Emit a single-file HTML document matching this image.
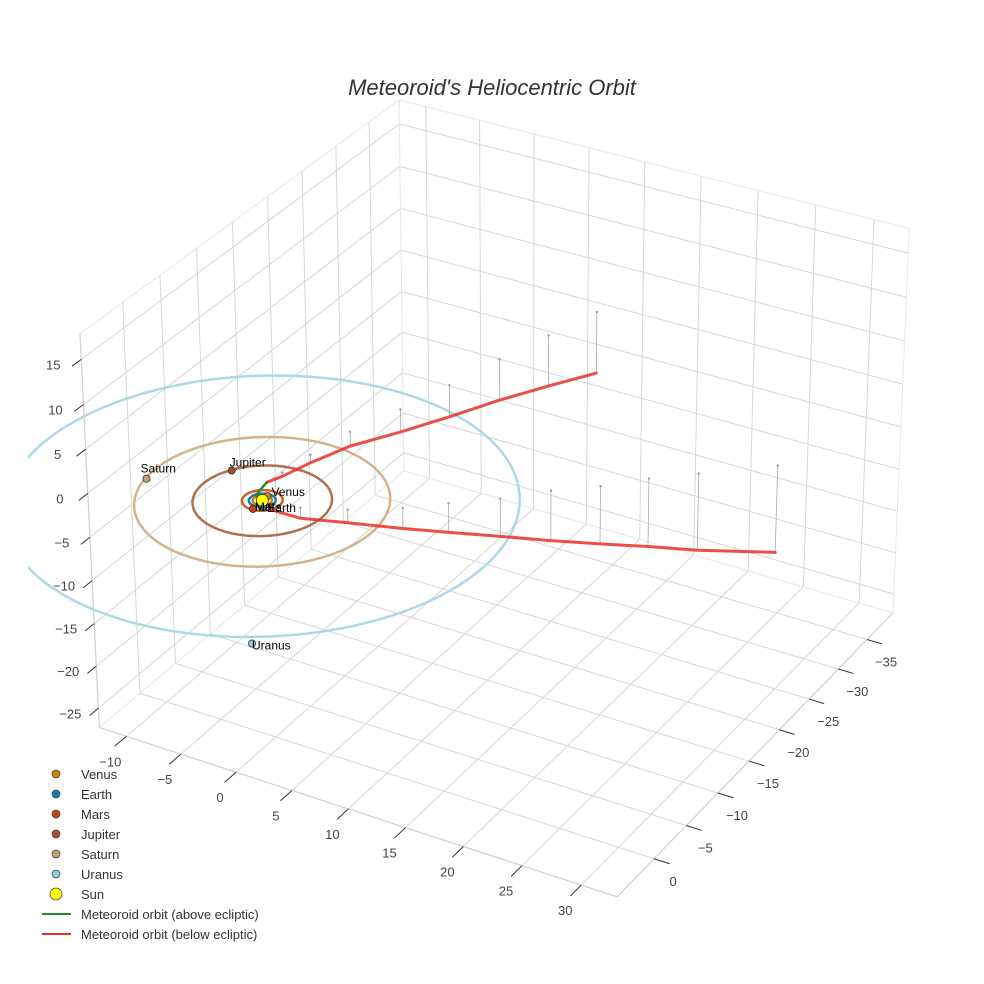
<!DOCTYPE html>
<html><head><meta charset="utf-8"><style>
html,body{margin:0;padding:0;background:#fff;}
svg{display:block;font-family:"Liberation Sans",sans-serif;}
</style></head><body>
<svg id="chart" width="984" height="984" viewBox="0 0 984 984">
<rect width="984" height="984" fill="#fff"/>
<text x="492" y="95" text-anchor="middle" font-size="22" font-style="italic" fill="#333">Meteoroid's Heliocentric Orbit</text>
<defs><clipPath id="plotclip"><rect x="28" y="0" width="956" height="984"/></clipPath></defs>
<g id="grid"></g>
<g id="axes"></g>
<g id="marks" clip-path="url(#plotclip)"></g>
<g id="legend"></g>
</svg>
<script>
// ---- data ----
const xTicks = [-10,-5,0,5,10,15,20,25,30];
const yTicks = [0,-5,-10,-15,-20,-25,-30,-35];
const zTicks = [-25,-20,-15,-10,-5,0,5,10,15];
const planetNames = ["Venus","Earth","Mars","Jupiter","Saturn","Uranus"];
const planetX = [-0.6,0.0,-0.53,-5.0,-9.9,9.6];
const planetY = [-0.72,0.8,1.4,-2.6,1.6,17.3];
const planetZ = [0,0,0,0,0,0];
const orbitRadii = [0.72,1.0,1.52,5.2,9.54,19.2];
const sunPos = [-0.6,0,0];
const greenX = [-1.4,-1.5,-1.6];
const greenY = [-0.4,-1.3,-2.2];
const greenZ = [0.0,0.15,0.2];
const upperX = [-1.6,-1.5,-1.1,-0.35,1.2,2.5,3.8,5.2,6.6];
const upperY = [-2.2,-4.2,-7.55,-12.05,-16.9,-22.1,-27.6,-32.9,-38.2];
const upperZ = [0.2,-0.4,-0.9,-1.65,-2.6,-3.7,-4.8,-6.0,-7.3];
const lowerX = [-1.4,0.8,2.45,5.65,9.1,11.7,14.7,17.4,20.3,22.9,25.8,30.4];
const lowerY = [-0.4,0.3,-0.5,-2.0,-4.2,-6.5,-9.0,-11.9,-14.3,-17.1,-19.6,-23.6];
const lowerZ = [0,-0.5,-1.2,-1.5,-2.3,-3.3,-4.3,-5.7,-6.6,-7.8,-8.8,-10.0];

// ---- style / layout ----
const xR=[-12.5,33], yR=[-39.6,5.6], zR=[-27.3,17.8];
const planetColors=["#c8860a","#1f77b4","#c8401a","#a0522d","#c8a070","#8ccde0"];
const orbitColors=["#c8860a","#1f77b4","#c8642a","#b07050","#d2b48c","#add8e6"];
const labelOff=[[4,0],[4,5],[2,2],[-2,-4],[-6,-6],[0,6]];
// projection calibration (layout anchors)
const calib=[
 [xR[0],yR[1],zR[0],99,727],[xR[1],yR[1],zR[0],619,895],[xR[1],yR[0],zR[0],893,612],
 [xR[0],yR[0],zR[0],405,470],[xR[0],yR[1],zR[1],81,335],[xR[1],yR[0],zR[1],910,228],
 [xR[0],yR[0],zR[1],400,100],[-10,yR[1],zR[0],128,740],[30,yR[1],zR[0],584,884],
 [xR[1],0,zR[0],653,860],[xR[1],-35,zR[0],865,642],[xR[0],yR[1],15,83,359],
 [xR[0],yR[1],-25,97,706],[0,0,0,262,502]];
function solve(){
  const n=11, M=[...Array(n)].map(()=>Array(n+1).fill(0));
  const add=(a,b)=>{for(let i=0;i<n;i++){for(let j=0;j<n;j++)M[i][j]+=a[i]*a[j];M[i][n]+=a[i]*b;}};
  for(const [X,Y,Z,u,v] of calib){
    add([X,Y,Z,1,0,0,0,0,-u*X,-u*Y,-u*Z],u);
    add([0,0,0,0,X,Y,Z,1,-v*X,-v*Y,-v*Z],v);
  }
  for(let c=0;c<n;c++){let p=c;for(let r=c+1;r<n;r++)if(Math.abs(M[r][c])>Math.abs(M[p][c]))p=r;
    [M[c],M[p]]=[M[p],M[c]];
    for(let r=0;r<n;r++){if(r===c)continue;const f=M[r][c]/M[c][c];for(let k=c;k<=n;k++)M[r][k]-=f*M[c][k];}}
  return M.map((r,i)=>r[n]/r[i]);
}
const P=solve();
function proj(x,y,z){const w=P[8]*x+P[9]*y+P[10]*z+1;
  return [(P[0]*x+P[1]*y+P[2]*z+P[3])/w,(P[4]*x+P[5]*y+P[6]*z+P[7])/w];}
const NS="http://www.w3.org/2000/svg";
function mk(tag,attrs,parent){const e=document.createElementNS(NS,tag);for(const k in attrs)e.setAttribute(k,attrs[k]);parent.appendChild(e);return e;}
function line3(a,b,stroke,w,parent){const p=proj(...a),q=proj(...b);
  return mk("line",{x1:p[0],y1:p[1],x2:q[0],y2:q[1],stroke:stroke,"stroke-width":w},parent);}
const grid=document.getElementById("grid"),axes=document.getElementById("axes"),marks=document.getElementById("marks"),legend=document.getElementById("legend");
const GC="#d6d6d6";
xTicks.forEach(x=>{const l=line3([x,yR[0],zR[0]],[x,yR[1],zR[0]],GC,1,grid);


const l2=line3([x,yR[0],zR[0]],[x,yR[0],zR[1]],GC,1,grid);

});
yTicks.forEach(y=>{const l=line3([xR[0],y,zR[0]],[xR[1],y,zR[0]],GC,1,grid);


const l2=line3([xR[0],y,zR[0]],[xR[0],y,zR[1]],GC,1,grid);

});
zTicks.forEach(z=>{const l=line3([xR[0],yR[0],z],[xR[0],yR[1],z],GC,1,grid);


const l2=line3([xR[0],yR[0],z],[xR[1],yR[0],z],GC,1,grid);

});
const EC="#e6e6e6";
[[[xR[0],yR[1],zR[1]],[xR[0],yR[0],zR[1]]],[[xR[0],yR[0],zR[1]],[xR[1],yR[0],zR[1]]],
 [[xR[1],yR[0],zR[0]],[xR[1],yR[0],zR[1]]],[[xR[0],yR[0],zR[0]],[xR[0],yR[0],zR[1]]],
 [[xR[0],yR[0],zR[0]],[xR[1],yR[0],zR[0]]],[[xR[0],yR[0],zR[0]],[xR[0],yR[1],zR[0]]]].forEach(e=>{
 const l=line3(e[0],e[1],EC,1,grid);
 
 });
[[[xR[0],yR[1],zR[0]],[xR[1],yR[1],zR[0]]],[[xR[1],yR[1],zR[0]],[xR[1],yR[0],zR[0]]],[[xR[0],yR[1],zR[0]],[xR[0],yR[1],zR[1]]]].forEach(e=>{
 const l=line3(e[0],e[1],"#cfcfcf",1.2,axes);
 
 });
function label(x,y,t,name){const e=mk("text",{x:x,y:y,"text-anchor":"middle","font-size":13,fill:"#444"},axes);e.textContent=t;
 
 }
const fmt=v=>v<0?"\u2212"+(-v):""+v;
xTicks.forEach(x=>{const l=line3([x,yR[1],zR[0]],[x,yR[1]+1.6,zR[0]],"#333",1,axes);
 
 
 const p=proj(x,yR[1],zR[0]);label(p[0]-16,p[1]+30,fmt(x),'x-tick-label');});
yTicks.forEach(y=>{const l=line3([xR[1],y,zR[0]],[xR[1]+1.3,y,zR[0]],"#333",1,axes);
 
 
 const p=proj(xR[1],y,zR[0]);label(p[0]+19,p[1]+27,fmt(y),'y-tick-label');});
zTicks.forEach(z=>{const l=line3([xR[0],yR[1],z],[xR[0],yR[1]+1.2,z],"#333",1,axes);
 
 
 const p=proj(xR[0],yR[1],z);label(p[0]-28,p[1]+10,fmt(z),'z-tick-label');});
orbitRadii.forEach((r,i)=>{let d="";for(let k=0;k<=180;k++){const a=k/180*2*Math.PI;
 const p=proj(sunPos[0]+r*Math.cos(a),sunPos[1]+r*Math.sin(a),0);d+=(k?"L":"M")+p[0].toFixed(1)+","+p[1].toFixed(1);}
 const e=mk("path",{d:d,fill:"none",stroke:orbitColors[i],"stroke-width":2.5},marks);
 
 });
function drops(X,Y,Z,name){X.forEach((x,i)=>{const l=line3([x,Y[i],Z[i]],[x,Y[i],0],"#aaa",0.8,marks);
 
 
 const p=proj(x,Y[i],0);const c=mk("circle",{cx:p[0],cy:p[1],r:1.2,fill:"#999"},marks);
 
 });}
drops(upperX.slice(1),upperY.slice(1),upperZ.slice(1),'upper');
drops(lowerX.slice(1),lowerY.slice(1),lowerZ.slice(1),'lower');
function path3(X,Y,Z,color,w,name,op){let d="";X.forEach((x,i)=>{const p=proj(x,Y[i],Z[i]);d+=(i?"L":"M")+p[0].toFixed(1)+","+p[1].toFixed(1);});
 const e=mk("path",{d:d,fill:"none",stroke:color,"stroke-width":w,"stroke-linejoin":"round","stroke-linecap":"round","stroke-opacity":op},marks);
 
 }
path3(upperX,upperY,upperZ,"#e8302a",3,'meteoroid-orbit-upper-branch',0.85);
path3(lowerX,lowerY,lowerZ,"#e8302a",3,'meteoroid-orbit-lower-branch',0.85);
path3(greenX,greenY,greenZ,"#228b22",2.5,'meteoroid-orbit-above-ecliptic',1);
planetNames.forEach((n,i)=>{const p=proj(planetX[i],planetY[i],planetZ[i]);
 const c=mk("circle",{cx:p[0],cy:p[1],r:3.6,fill:planetColors[i],stroke:"#333","stroke-width":0.8},marks);
 
 });
{const p=proj(...sunPos);const c=mk("circle",{cx:p[0],cy:p[1],r:6,fill:"#ffff00",stroke:"#333","stroke-width":0.8},marks);
 
 }
planetNames.forEach((n,i)=>{const p=proj(planetX[i],planetY[i],planetZ[i]);
 const t=mk("text",{x:p[0]+labelOff[i][0],y:p[1]+labelOff[i][1],"font-size":12,fill:"#000"},marks);t.textContent=n;
 
 });
const legNames=["Venus","Earth","Mars","Jupiter","Saturn","Uranus","Sun","Meteoroid orbit (above ecliptic)","Meteoroid orbit (below ecliptic)"];
const legColors=planetColors.concat(["#ffff00","#228b22","#e8302a"]);
legNames.forEach((n,i)=>{const y=774+i*20;let m;
 if(i<7){m=mk("circle",{cx:56,cy:y,r:i===6?6:4,fill:legColors[i],stroke:"#444","stroke-width":0.8},legend);}
 else{m=mk("line",{x1:42,y1:y,x2:71,y2:y,stroke:legColors[i],"stroke-width":2},legend);}
 
 
 const t=mk("text",{x:81,y:y+5,"font-size":13,fill:"#333"},legend);t.textContent=n;
 
 });
</script>
</body></html>
